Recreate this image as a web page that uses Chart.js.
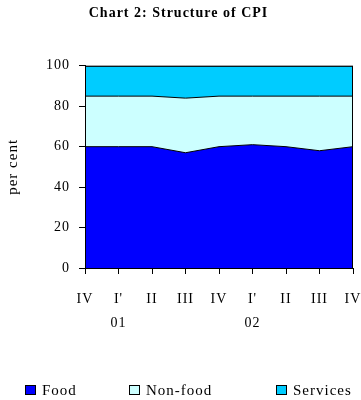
<!DOCTYPE html>
<html>
<head>
<meta charset="utf-8">
<script src="https://cdn.jsdelivr.net/npm/chart.js@4/dist/chart.umd.min.js"></script>
<style>
	html, body { margin: 0; padding: 0; background: #fff; }
	#wrap { width: 361px; height: 400px; }
</style>
</head>
<body>
<div id="wrap"><canvas id="cpi"></canvas></div>
<script>
const quarters = ['IV', "I'", 'II', 'III', 'IV', "I'", 'II', 'III', 'IV'];
const years = ['', '01', '', '', '', '02', '', '', ''];
const food = [60, 60, 60, 57, 60, 61, 60, 58, 60];
const nonFood = [25, 25, 25, 27, 25, 24, 25, 27, 25];
const services = [15, 15, 15, 16, 15, 15, 15, 15, 15];
const yTicks = [0, 20, 40, 60, 80, 100];

const labels = quarters.map((q, i) => [q, years[i]]);
const serif = "'Liberation Serif', 'Times New Roman', serif";

// the original renderer spaces its letters out a little
const spacing = {
	id: 'spacing',
	beforeUpdate(chart) { chart.ctx.letterSpacing = '1px'; },
	beforeDraw(chart) { chart.ctx.letterSpacing = '1px'; }
};

// black frame round the plot area
const frame = {
	id: 'frame',
	afterDatasetsDraw(chart) {
		const { ctx, chartArea: a } = chart;
		ctx.save();
		ctx.strokeStyle = '#000';
		ctx.lineWidth = 1;
		ctx.strokeRect(a.left + 0.5, a.top + 0.5, a.right - a.left - 1, a.bottom - a.top);
		ctx.restore();
	}
};

// legend spread across the bottom like the original
const spreadLegend = {
	id: 'spreadLegend',
	afterDraw(chart) {
		const { ctx } = chart;
		const xs = [25, 129, 276];
		ctx.save();
		ctx.font = '15px ' + serif;
		ctx.textBaseline = 'alphabetic';
		chart.data.datasets.forEach((d, i) => {
			const x = xs[i];
			ctx.fillStyle = d.backgroundColor;
			ctx.fillRect(x, 385, 11, 10);
			ctx.strokeStyle = '#000';
			ctx.lineWidth = 1;
			ctx.strokeRect(x + 0.5, 385.5, 10, 9);
			ctx.fillStyle = '#000';
			ctx.fillText(d.label, x + 17, 395);
		});
		ctx.restore();
	}
};

function area(label, data, color, fill) {
	return {
		label, data, fill,
		backgroundColor: color,
		borderColor: '#000',
		borderWidth: 1,
		pointRadius: 0,
		tension: 0
	};
}

new Chart(document.querySelector('#cpi'), {
	type: 'line',
	data: {
		labels,
		datasets: [
			area('Food', food, '#0000FF', 'origin'),
			area('Non-food', nonFood, '#CCFFFF', '-1'),
			area('Services', services, '#00CCFF', '-1')
		]
	},
	options: {
		responsive: true,
		maintainAspectRatio: false,
		animation: false,
		layout: { padding: { left: 4, right: 8, top: 0, bottom: 51 } },
		scales: {
			x: {
				offset: false,
				grid: { display: true, drawOnChartArea: false, drawTicks: true, tickLength: 6, color: '#000' },
				border: { display: true, color: '#000' },
				ticks: { color: '#000', font: { family: serif, size: 14, lineHeight: 1.75 }, padding: 13, maxRotation: 0, autoSkip: false },
				afterFit: s => { s.paddingRight = 0; s.paddingLeft = 0; }
			},
			y: {
				stacked: true,
				min: 0,
				max: 100,
				afterBuildTicks: s => { s.ticks = yTicks.map(v => ({ value: v })); },
				grid: { display: true, drawOnChartArea: false, drawTicks: true, tickLength: 6, color: '#000' },
				border: { display: true, color: '#000' },
				ticks: { color: '#000', font: { family: serif, size: 14 }, padding: 9 },
				title: { display: true, text: 'per cent', color: '#000', font: { family: serif, size: 15 }, padding: { top: 0, bottom: 15 } }
			}
		},
		plugins: {
			title: {
				display: true,
				text: 'Chart 2: Structure of CPI',
				color: '#000',
				font: { family: serif, size: 14, weight: 'bold' },
				padding: { top: 5, bottom: 44 }
			},
			legend: { display: false },
			tooltip: { enabled: false }
		}
	},
	plugins: [spacing, frame, spreadLegend]
});
</script>
</body>
</html>
